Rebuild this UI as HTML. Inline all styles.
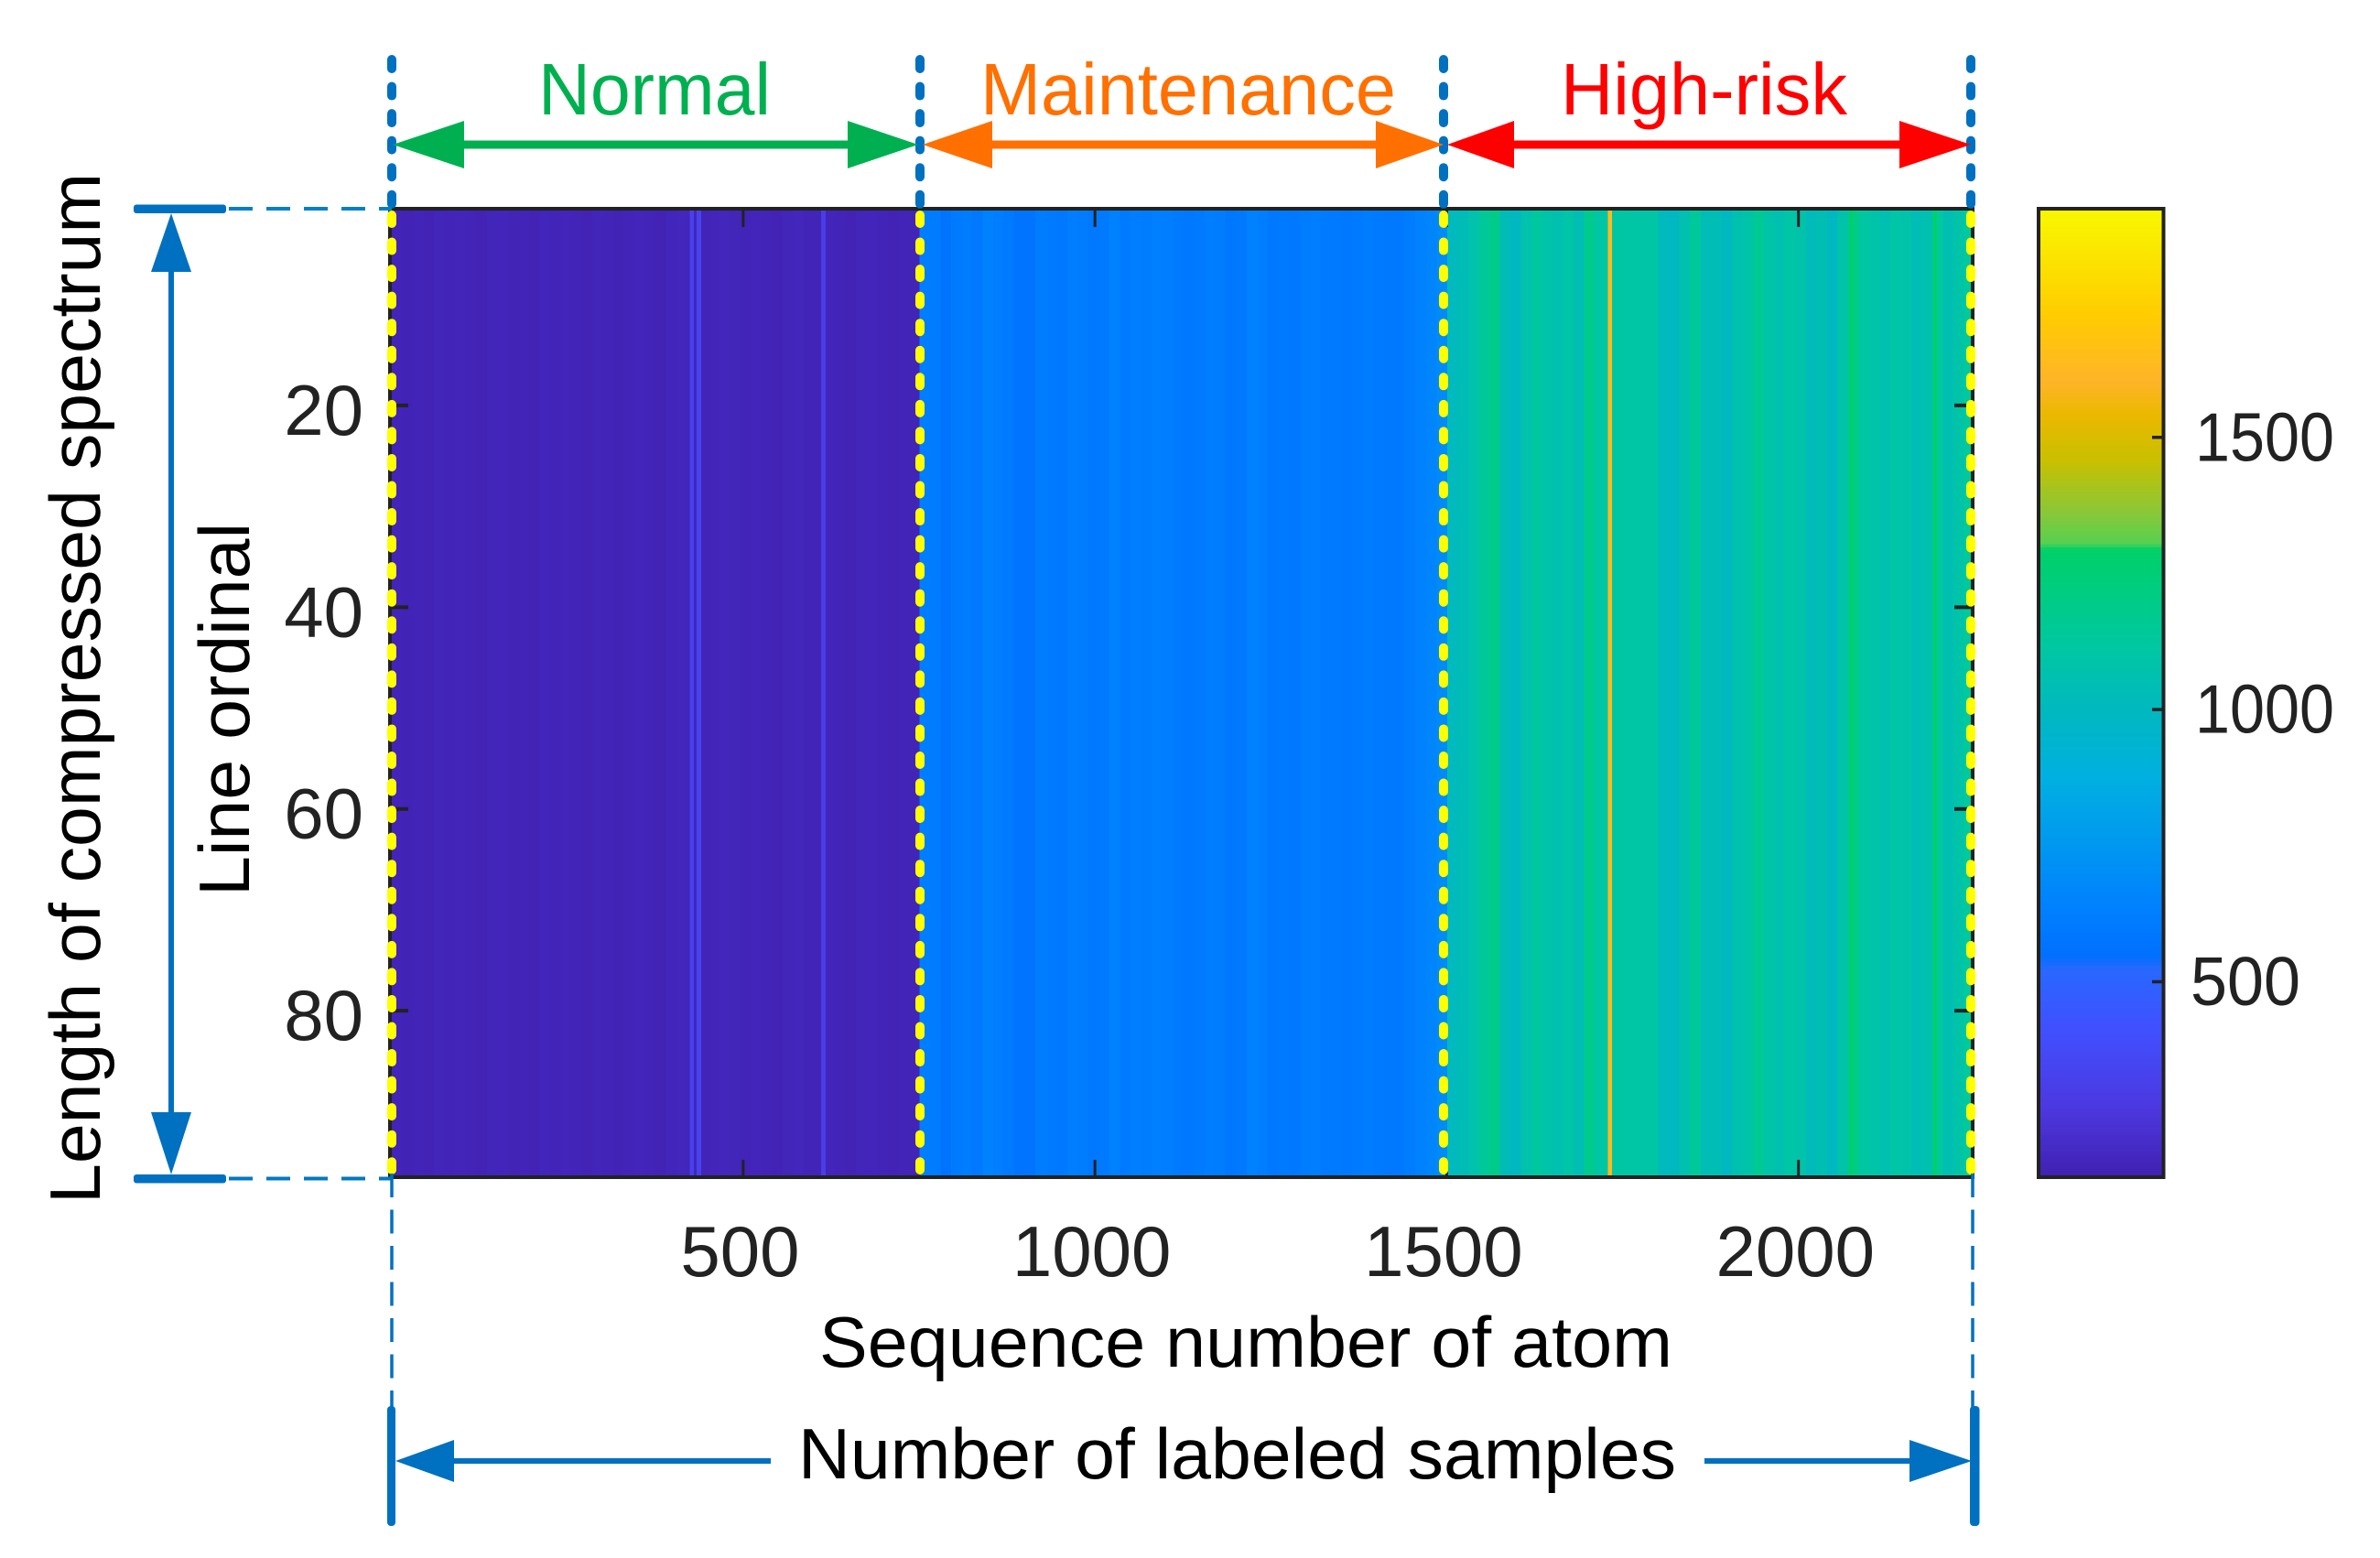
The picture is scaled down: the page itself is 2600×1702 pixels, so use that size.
<!DOCTYPE html>
<html lang="en">
<head>
<meta charset="utf-8">
<title>Labeled atom spectrum heatmap</title>
<style>
html,body{margin:0;padding:0;background:#fff;}
svg{display:block;}
text{font-family:"Liberation Sans",Arial,sans-serif;}
</style>
</head>
<body>
<svg id="chart" xmlns="http://www.w3.org/2000/svg" width="2600" height="1702" viewBox="0 0 2600 1702">
  <rect x="0" y="0" width="2600" height="1702" fill="#ffffff"/>
  <defs><clipPath id="plot-clip"><rect x="428" y="228" width="1725" height="1058"/></clipPath></defs>
  <g id="heatmap" clip-path="url(#plot-clip)" shape-rendering="crispEdges"></g>
  <rect x="426" y="228" width="1729" height="1058" fill="none" stroke="#222222" stroke-width="4"/>
  <g id="x-ticks"></g>
  <g id="y-ticks"></g>
  <g id="colorbar" shape-rendering="crispEdges"></g>
  <rect x="2227" y="228" width="136.5" height="1058" fill="none" stroke="#222222" stroke-width="4"/>
  <g id="colorbar-ticks"></g>

  <g fill="none" stroke="#ffff00" stroke-width="10" stroke-linecap="round" stroke-dasharray="9 20.55">
    <line x1="428" y1="235" x2="428" y2="1278"/>
    <line x1="1005" y1="235" x2="1005" y2="1278"/>
    <line x1="1577" y1="235" x2="1577" y2="1278"/>
    <line x1="2153" y1="235" x2="2153" y2="1278"/>
  </g>
  <g fill="none" stroke="#0070c0" stroke-width="10" stroke-linecap="round" stroke-dasharray="10 19.55">
    <line x1="428" y1="65" x2="428" y2="226"/>
    <line x1="1005" y1="65" x2="1005" y2="226"/>
    <line x1="1577" y1="65" x2="1577" y2="226"/>
    <line x1="2153" y1="65" x2="2153" y2="226"/>
  </g>

  <g fill="#00b050">
    <rect x="505" y="153.500" width="423" height="9"/>
    <polygon points="429,158 507,132 507,184"/>
    <polygon points="1003,158 926,132 926,184"/>
  </g>
  <g fill="#ff7000">
    <rect x="1082" y="153.500" width="423" height="9"/>
    <polygon points="1008,158 1084,132 1084,184"/>
    <polygon points="1577,158 1503,132 1503,184"/>
  </g>
  <g fill="#ff0000">
    <rect x="1652" y="153.500" width="425" height="9"/>
    <polygon points="1581,158 1654,132 1654,184"/>
    <polygon points="2153,158 2075,132 2075,184"/>
  </g>
  <text x="588" y="125" font-size="80" fill="#00b050" textLength="254" lengthAdjust="spacingAndGlyphs">Normal</text>
  <text x="1071" y="125" font-size="80" fill="#ff7000" textLength="454" lengthAdjust="spacingAndGlyphs">Maintenance</text>
  <text x="1705" y="125" font-size="80" fill="#ff0000" textLength="313" lengthAdjust="spacingAndGlyphs">High-risk</text>

  <g>
    <rect x="146" y="223.500" width="101" height="9.500" rx="3" fill="#0070c0"/>
    <rect x="146" y="1283" width="101" height="9.500" rx="3" fill="#0070c0"/>
    <rect x="184" y="290" width="6" height="930" fill="#0070c0"/>
    <polygon points="187,233 165,297 209,297" fill="#0070c0"/>
    <polygon points="187,1283 165,1215 209,1215" fill="#0070c0"/>
    <line x1="250" y1="228" x2="428" y2="228" stroke="#0080c8" stroke-width="4" stroke-dasharray="26 15"/>
    <line x1="250" y1="1287.500" x2="428" y2="1287.500" stroke="#0078c0" stroke-width="4" stroke-dasharray="26 15"/>
  </g>

  <g>
    <line x1="428" y1="1282" x2="428" y2="1540" stroke="#0070c0" stroke-width="3.500" stroke-dasharray="26 13.500"/>
    <line x1="2155" y1="1282" x2="2155" y2="1540" stroke="#0070c0" stroke-width="3.500" stroke-dasharray="26 13.500"/>
    <rect x="423" y="1536" width="9" height="131" rx="4" fill="#0070c0"/>
    <rect x="2152" y="1536" width="10.500" height="131" rx="4" fill="#0070c0"/>
    <rect x="494" y="1593" width="348" height="6" fill="#0070c0"/>
    <rect x="1862" y="1593" width="226" height="6" fill="#0070c0"/>
    <polygon points="432,1596 496,1573 496,1619" fill="#0070c0"/>
    <polygon points="2154,1596 2086,1573 2086,1619" fill="#0070c0"/>
  </g>

  <text x="895" y="1493" font-size="78" fill="#000000" textLength="932" lengthAdjust="spacingAndGlyphs">Sequence number of atom</text>
  <text x="872" y="1615" font-size="78" fill="#000000" textLength="959" lengthAdjust="spacingAndGlyphs">Number of labeled samples</text>
  <text transform="translate(272 979) rotate(-90)" x="0" y="0" font-size="78" fill="#000000" textLength="408" lengthAdjust="spacingAndGlyphs">Line ordinal</text>
  <text transform="translate(109 1315) rotate(-90)" x="0" y="0" font-size="78" fill="#000000" textLength="1126" lengthAdjust="spacingAndGlyphs">Length of compressed spectrum</text>
</svg>
<script>
// Heatmap data: intensity per block of 15 atoms
const normalBlockValues = [
  162,156,164,158,166,161,168,162,157,165,169,160,164,158,167,162,170,164,158,166,
  161,156,164,170,163,158,167,172,165,160,168,174,166,161,169,164,158,166,172,164,
  160,167,162,158,165,170,163,158,164,160
];
const maintenanceBlockValues = [
  620,610,565,600,610,590,640,625,600,570,565,610,600,590,620,610,590,600,640,600,
  620,610,630,620,600,590,600,620,610,585,595,640,620,590,600,590,610,620,600,600,
  590,605,610,600,595,590,610,640,660,690
];
const highRiskBlockValues = [
  1010,1030,1070,1140,1190,1030,1000,1070,1125,1085,1060,1095,1045,1180,1100,1100,1105,1100,1095,1100,
  1010,1000,1060,1140,1040,1040,1000,1060,1090,1160,1090,1060,1100,1080,1020,1050,1000,1080,1200,1110,
  1090,1060,1100,1080,1040,1060,1120,1050,1090,1130
];
// Narrow single streaks: atom sequence number and intensity
const streakAtoms = [427, 437, 614, 1732, 2075, 2194];
const streakValues = [320, 330, 300, 1640, 1270, 1285];
const blockSize = 15;
const lineCount = 96;

// Axis limits and labels
const xTickValues = [500, 1000, 1500, 2000];
const yTickValues = [20, 40, 60, 80];
const colorbarTickValues = [500, 1000, 1500];
const xLimits = [0.5, 2245];
const yLimits = [0.5, 96.5];
const colorLimits = [141, 1920];

// Colormap
const colormapValues = [141, 269, 415, 524, 549, 633, 755, 876, 997, 1119, 1295, 1307, 1362, 1458, 1544, 1604, 1725, 1920];
const colormapColors = ['#4020b0', '#4c38e0', '#4050ff', '#2868ff', '#0070ff', '#0080ff', '#0098f0', '#00b0e0', '#00b8c0', '#00c8a0', '#00d068', '#58d050', '#88c838', '#c8c000', '#ecb800', '#ffb428', '#ffcc00', '#f8f800'];

const NS = 'http://www.w3.org/2000/svg';
const plot = { left: 428, right: 2153, top: 228, bottom: 1286 };
const bar = { left: 2229, right: 2362, top: 228, bottom: 1286 };

function xScale(v) { return plot.left + (v - xLimits[0]) / (xLimits[1] - xLimits[0]) * (plot.right - plot.left); }
function yScale(v) { return plot.top + (v - yLimits[0]) / (yLimits[1] - yLimits[0]) * (plot.bottom - plot.top); }
function colorScale(v) { return bar.bottom - (v - colorLimits[0]) / (colorLimits[1] - colorLimits[0]) * (bar.bottom - bar.top); }

function hexToRgb(h) { return [1, 3, 5].map(function (i) { return parseInt(h.substr(i, 2), 16); }); }
function colorFor(v) {
  const n = colormapValues.length;
  if (v <= colormapValues[0]) return colormapColors[0];
  if (v >= colormapValues[n - 1]) return colormapColors[n - 1];
  for (let i = 1; i < n; i++) {
    if (v <= colormapValues[i]) {
      const t = (v - colormapValues[i - 1]) / (colormapValues[i] - colormapValues[i - 1]);
      const a = hexToRgb(colormapColors[i - 1]);
      const b = hexToRgb(colormapColors[i]);
      return 'rgb(' + a.map(function (c, k) { return Math.round(c + (b[k] - c) * t); }).join(',') + ')';
    }
  }
  return colormapColors[n - 1];
}
function svgEl(tag, attrs, parent) {
  const el = document.createElementNS(NS, tag);
  Object.keys(attrs).forEach(function (k) { el.setAttribute(k, attrs[k]); });
  parent.appendChild(el);
  return el;
}

const heatmapGroup = document.getElementById('heatmap');
const blockValues = normalBlockValues.concat(maintenanceBlockValues, highRiskBlockValues);
blockValues.forEach(function (value, i) {
  const x0 = xScale(i * blockSize + 0.5);
  const x1 = xScale((i + 1) * blockSize + 0.5);
  const y0 = yScale(0.5);
  const y1 = yScale(lineCount + 0.5);
  const el = svgEl('rect', { x: x0, y: y0, width: x1 - x0 + 0.5, height: y1 - y0, fill: colorFor(value) }, heatmapGroup);
  
  
});
streakAtoms.forEach(function (atom, i) {
  const x0 = xScale(atom - 3);
  const x1 = xScale(atom + 3);
  const el = svgEl('rect', { x: x0, y: yScale(0.5), width: x1 - x0, height: yScale(lineCount + 0.5) - yScale(0.5), fill: colorFor(streakValues[i]) }, heatmapGroup);
  
  
});

const xTickGroup = document.getElementById('x-ticks');
xTickValues.forEach(function (v) {
  const x = xScale(v);
  const top = svgEl('line', { x1: x, x2: x, y1: 229, y2: 248, stroke: '#222222', 'stroke-width': 3 }, xTickGroup);
  
  
  const bottom = svgEl('line', { x1: x, x2: x, y1: 1267, y2: 1285, stroke: '#222222', 'stroke-width': 3 }, xTickGroup);
  
  
  const label = svgEl('text', { x: x - 3.5, y: 1394, 'font-size': 78, fill: '#222222', 'text-anchor': 'middle' }, xTickGroup);
  label.textContent = String(v);
  
  
});

const yTickGroup = document.getElementById('y-ticks');
yTickValues.forEach(function (v) {
  const y = yScale(v);
  const left = svgEl('line', { x1: 427, x2: 446, y1: y, y2: y, stroke: '#222222', 'stroke-width': 4 }, yTickGroup);
  
  
  const right = svgEl('line', { x1: 2135, x2: 2154, y1: y, y2: y, stroke: '#222222', 'stroke-width': 4 }, yTickGroup);
  
  
  const label = svgEl('text', { x: 397, y: y + 32, 'font-size': 78, fill: '#222222', 'text-anchor': 'end' }, yTickGroup);
  label.textContent = String(v);
  
  
});

const colorbarGroup = document.getElementById('colorbar');
for (let v = colorLimits[0]; v < colorLimits[1]; v += 6) {
  const y1 = colorScale(v);
  const y0 = colorScale(v + 6);
  const el = svgEl('rect', { x: bar.left, y: y0, width: bar.right - bar.left, height: y1 - y0 + 0.5, fill: colorFor(v + 3) }, colorbarGroup);
  
  
}
const colorbarTickGroup = document.getElementById('colorbar-ticks');
colorbarTickValues.forEach(function (v) {
  const y = colorScale(v);
  const tick = svgEl('line', { x1: 2351, x2: 2362, y1: y, y2: y, stroke: '#222222', 'stroke-width': 3.5 }, colorbarTickGroup);
  
  
  const text = String(v);
  const label = svgEl('text', { x: text.length === 3 ? 2393 : 2398, y: y + 25.5, 'font-size': 75, fill: '#222222', textLength: text.length === 3 ? 120 : 152, lengthAdjust: 'spacingAndGlyphs' }, colorbarTickGroup);
  label.textContent = text;
  
  
});
</script>
</body>
</html>
